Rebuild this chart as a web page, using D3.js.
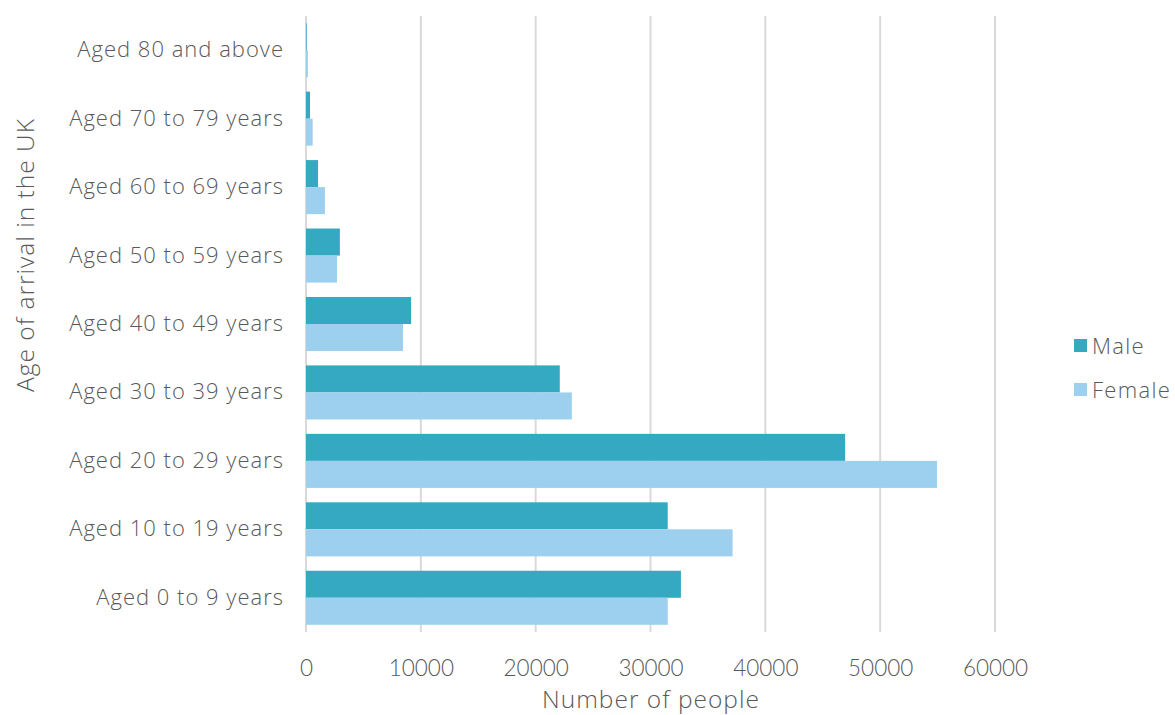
<!DOCTYPE html>
<html><head><meta charset="utf-8">
<script src="https://cdn.jsdelivr.net/npm/d3@7"></script>
<style>body{margin:0;background:#fff;} text{font-family:"Open Sans", Lato, sans-serif;}</style>
</head><body><svg id="c" width="1175" height="715"></svg>
<script>
const categories = ["Aged 0 to 9 years","Aged 10 to 19 years","Aged 20 to 29 years","Aged 30 to 39 years","Aged 40 to 49 years","Aged 50 to 59 years","Aged 60 to 69 years","Aged 70 to 79 years","Aged 80 and above"];
const seriesNames = ["Male","Female"];
const male =   [32650, 31500, 46950, 22100, 9150, 2950, 1050, 350, 60];
const female = [31500, 37150, 54950, 23150, 8450, 2700, 1650, 580, 170];
const xTicks = [0,10000,20000,30000,40000,50000,60000];
const colors = ["#36a9c2","#9dd0ee"];

const svg = d3.select("#c");
const m = {l:306, r:180, t:16, b:83};
const W = 1175, H = 715;
const x = d3.scaleLinear().domain([0,60000]).range([m.l, 995]);
const y = d3.scaleBand().domain(categories.slice().reverse()).range([m.t, H-m.b]).paddingInner(0.21).paddingOuter(0.105);
const ys = d3.scaleBand().domain(seriesNames).range([0, y.bandwidth()]);

svg.append("g").selectAll("line").data(xTicks).join("line")
  .attr("x1", d=>x(d)).attr("x2", d=>x(d)).attr("y1", m.t).attr("y2", H-m.b)
  .attr("stroke", "#d9d9d9").attr("stroke-width", 2);

const data = categories.map((c,i)=>({c, vals:[male[i], female[i]]}));
const g = svg.append("g");
data.forEach(d=>{
  d.vals.forEach((v,j)=>{
    g.append("rect").attr("x", x(0)).attr("y", y(d.c)+ys(seriesNames[j]))
     .attr("width", x(v)-x(0)).attr("height", ys.bandwidth()).attr("fill", colors[j]);
  });
});

const xa = svg.append("g").attr("transform", `translate(0,${H-m.b})`)
  .call(d3.axisBottom(x).tickValues(xTicks).tickFormat(d3.format("d")).tickSize(0).tickPadding(28));
xa.select(".domain").remove();
xa.selectAll("text").attr("fill","#595959").style("font-family","Lato").style("font-size","22.5px").style("font-weight","300");

const ya = svg.append("g").attr("transform", `translate(${m.l},0)`)
  .call(d3.axisLeft(y).tickSize(0).tickPadding(22));
ya.select(".domain").remove();
ya.selectAll("text").attr("fill","#595959").style("font-size","22px").style("letter-spacing","1px").style("font-weight","300");

svg.append("text").attr("x", 651).attr("y", 708).attr("text-anchor","middle")
  .attr("fill","#595959").style("font-size","24.5px").style("letter-spacing","1px").style("font-weight","300").text("Number of people");
svg.append("text").attr("transform","translate(34,255) rotate(-90)").attr("text-anchor","middle")
  .attr("fill","#595959").style("font-size","24.5px").style("letter-spacing","1px").style("font-weight","300").text("Age of arrival in the UK");

const lg = svg.append("g");
seriesNames.forEach((s,i)=>{
  lg.append("rect").attr("x",1074).attr("y",339+i*44).attr("width",13).attr("height",13).attr("fill",colors[i]);
  lg.append("text").attr("x",1092).attr("y",354+i*44).attr("fill","#595959").style("font-size","22px").style("letter-spacing","1.3px").style("font-weight","300").text(s);
});
</script></body></html>
